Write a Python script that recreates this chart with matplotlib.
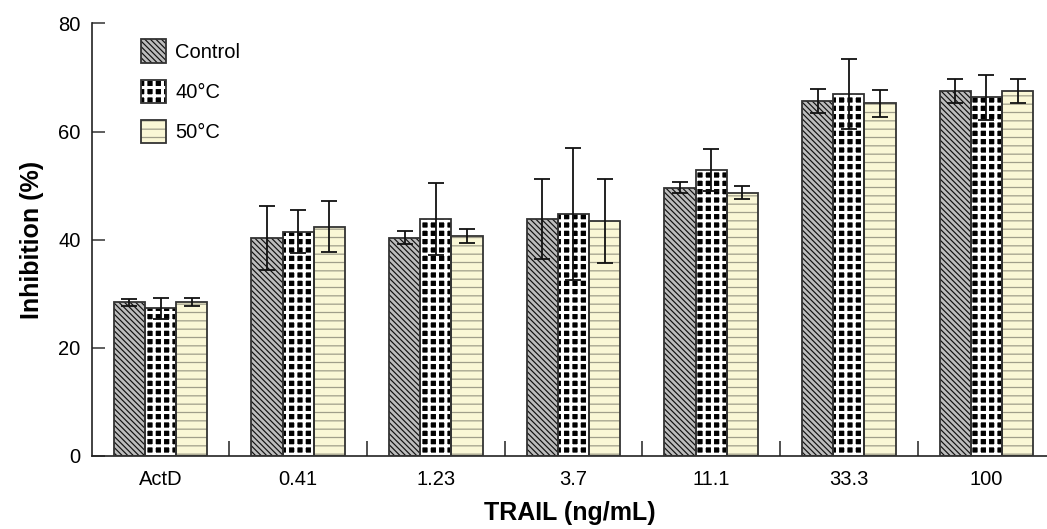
# Inhibition by TRAIL dose, grouped bars with error bars

import numpy as np
import matplotlib.pyplot as plt
import matplotlib as mpl
from matplotlib.patches import Rectangle
from matplotlib.legend_handler import HandlerTuple

# -----------------------------
# Data
# -----------------------------
doses = ['ActD', '0.41', '1.23', '3.7', '11.1', '33.3', '100']
series = ['Control', '40\u00b0C', '50\u00b0C']

control = [28.4, 40.3, 40.4, 43.8, 49.6, 65.7, 67.5]
control_err = [0.7, 5.9, 1.2, 7.4, 1.0, 2.2, 2.2]

c40 = [27.3, 41.5, 43.8, 44.8, 52.9, 66.9, 66.3]
c40_err = [1.9, 4.0, 6.6, 12.2, 3.9, 6.5, 4.1]

c50 = [28.4, 42.4, 40.7, 43.45, 48.7, 65.2, 67.5]
c50_err = [0.75, 4.7, 1.35, 7.7, 1.2, 2.5, 2.25]

# -----------------------------
# Styling
# -----------------------------
plt.rcParams['font.family'] = ['Liberation Sans', 'DejaVu Sans']
# 40C: black fill cut by thick white grid -> black blocks on white
styles = [
    dict(face='#bcbcbc', hatch='\\\\\\\\\\\\', hcolor='#111111', hlw=0.85),
    dict(face='black', hatch='++', hcolor='white', hlw=2.2),
    dict(face='#faf7d6', hatch='--', hcolor='#a09e8a', hlw=0.9),
]
edge = '#333333'

fig = plt.figure(figsize=(10.47, 5.29), dpi=100)
ax = fig.add_axes([0.0876, 0.138, 0.9124, 0.8178])

x = np.arange(len(doses))
w = 0.227
handles = []
for i, (vals, errs) in enumerate([(control, control_err), (c40, c40_err), (c50, c50_err)]):
    st = styles[i]
    pos = x + (i - 1) * w
    with mpl.rc_context({'hatch.linewidth': st['hlw']}):
        hb = ax.bar(pos, vals, w, color=st['face'], edgecolor=st['hcolor'],
                    hatch=st['hatch'], linewidth=0, zorder=2)
    ob = ax.bar(pos, vals, w, fill=False, edgecolor=edge, linewidth=1.3, zorder=3)
    ax.errorbar(pos, vals, yerr=errs, fmt='none', ecolor='#111111',
                elinewidth=1.3, capsize=5.5, capthick=1.3, zorder=4)
    handles.append((hb.patches[0], ob.patches[0]))

# -----------------------------
# Axes
# -----------------------------
ax.set_xlim(-0.5, 6.44)
ax.set_ylim(0, 80)
ax.set_yticks([0, 20, 40, 60, 80])
ax.set_xticks(x)
ax.set_xticklabels(doses)
ax.set_xticks(x[:-1] + 0.5, minor=True)
ax.tick_params(axis='x', which='major', length=0, pad=10, labelsize=14.5)
ax.tick_params(axis='x', which='minor', direction='in', length=11, width=1.2, color=edge)
ax.tick_params(axis='y', direction='in', length=9.5, width=1.1, pad=8, labelsize=14.5, color=edge)
for s in ['top', 'right']:
    ax.spines[s].set_visible(False)
for s in ['left', 'bottom']:
    ax.spines[s].set_linewidth(1.2)
    ax.spines[s].set_color('#222222')

ax.set_xlabel('TRAIL (ng/mL)', fontsize=18, fontweight='bold', labelpad=9)
ax.set_ylabel('Inhibition (%)', fontsize=18, fontweight='bold', labelpad=10)

leg = ax.legend(handles, series, handler_map={tuple: HandlerTuple(ndivide=1)},
                loc='upper left', bbox_to_anchor=(0.0516, 0.963), frameon=False,
                fontsize=14.5, handlelength=1.23, handleheight=1.4, handletextpad=0.47,
                labelspacing=0.85, borderpad=0, borderaxespad=0)

# legend patches pick up the default hatch width, give each its own
hlw = {st['hatch']: st['hlw'] for st in styles}
for p in leg.findobj(Rectangle):
    h = p.get_hatch()
    if h in hlw:
        if hasattr(p, 'set_hatch_linewidth'):
            p.set_hatch_linewidth(hlw[h])
        else:
            p._hatch_linewidth = hlw[h]

plt.savefig('out.png', dpi=100)
